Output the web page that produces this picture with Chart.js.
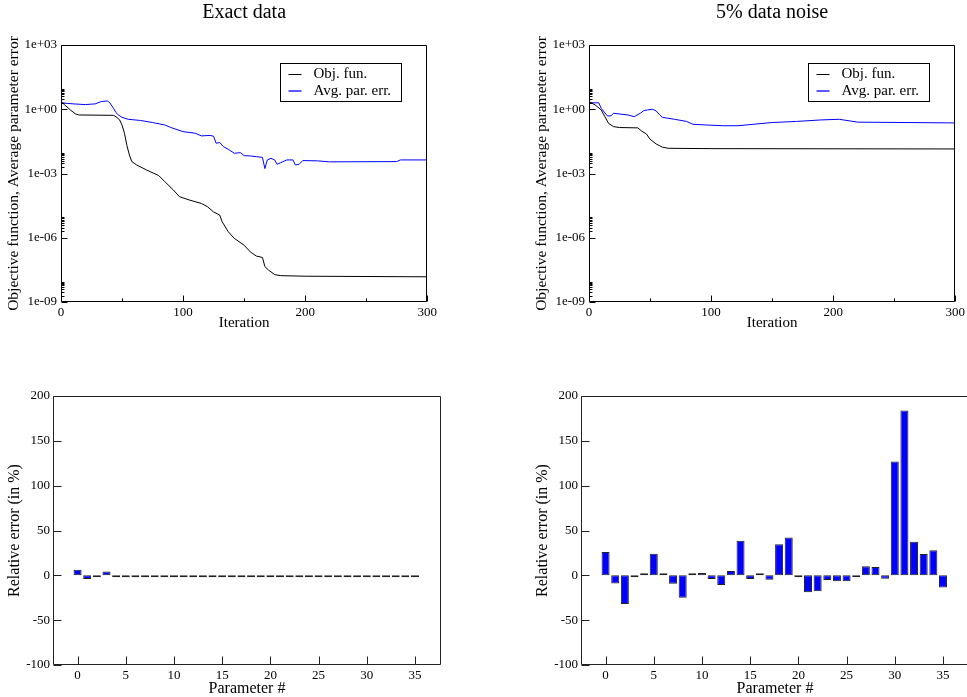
<!DOCTYPE html>
<html>
<head>
<meta charset="utf-8">
<script src="https://cdn.jsdelivr.net/npm/chart.js@4.4.1/dist/chart.umd.min.js"></script>
<style>
  html, body { margin: 0; padding: 0; background: #fff; width: 967px; height: 697px; overflow: hidden; }
  canvas { position: absolute; }
</style>
</head>
<body>
<canvas id="exact-conv" width="440" height="345" style="left:0;top:0"></canvas>
<canvas id="noise-conv" width="440" height="345" style="left:528px;top:0"></canvas>
<canvas id="exact-bar" width="452" height="340" style="left:0;top:360px"></canvas>
<canvas id="noise-bar" width="452" height="340" style="left:528px;top:360px"></canvas>
<script>
// convergence histories (iteration, value)
const exactObjIter = [0, 3, 8, 12, 15, 43, 45, 48, 50, 52, 54, 56, 58, 62, 70, 80, 85, 92, 97, 105, 115, 120, 125, 130, 132, 137, 142, 150, 155, 160, 165, 167, 170, 175, 180, 200, 300];
const exactObjVal  = [2.3, 1.6, 0.9, 0.6, 0.54, 0.52, 0.45, 0.32, 0.18, 0.076, 0.02, 0.0074, 0.0036, 0.0025, 0.00147, 0.0008, 0.00042, 0.00017, 8.3e-5, 5.8e-5, 4.0e-5, 2.8e-5, 1.6e-5, 1.15e-5, 5.6e-6, 1.9e-6, 9.3e-7, 4.5e-7, 2.2e-7, 1.4e-7, 1.2e-7, 4.5e-8, 3.1e-8, 1.9e-8, 1.7e-8, 1.6e-8, 1.5e-8];

const exactErrIter = [0, 10, 20, 28, 33, 38, 40, 43, 45, 47, 50, 55, 65, 75, 85, 90, 100, 110, 115, 122, 125, 127, 130, 133, 137, 142, 147, 150, 155, 160, 165, 167, 169, 172, 175, 177, 180, 185, 190, 192, 195, 198, 210, 220, 275, 278, 300];
const exactErrVal  = [2.0, 1.78, 1.65, 1.78, 2.28, 2.45, 2.0, 1.11, 0.70, 0.54, 0.42, 0.34, 0.30, 0.24, 0.185, 0.14, 0.09, 0.076, 0.057, 0.06, 0.055, 0.026, 0.028, 0.018, 0.0135, 0.0088, 0.0094, 0.0068, 0.0066, 0.0061, 0.0057, 0.0017, 0.0043, 0.0051, 0.0043, 0.0027, 0.0032, 0.0043, 0.0043, 0.0025, 0.0027, 0.0040, 0.0039, 0.0035, 0.0036, 0.0043, 0.0043];

const noiseObjIter = [0, 5, 10, 13, 16, 20, 25, 40, 43, 47, 50, 55, 60, 65, 100, 300];
const noiseObjVal  = [2.28, 1.6, 0.93, 0.45, 0.22, 0.155, 0.14, 0.135, 0.097, 0.07, 0.04, 0.024, 0.017, 0.015, 0.0145, 0.014];

const noiseErrIter = [0, 8, 10, 15, 18, 20, 25, 32, 37, 42, 45, 48, 52, 55, 58, 60, 70, 80, 85, 95, 110, 122, 135, 150, 170, 190, 205, 220, 300];
const noiseErrVal  = [2.0, 2.0, 1.11, 0.49, 0.49, 0.65, 0.6, 0.54, 0.45, 0.65, 0.87, 0.93, 1.0, 0.84, 0.54, 0.42, 0.34, 0.27, 0.2, 0.185, 0.17, 0.17, 0.2, 0.24, 0.27, 0.317, 0.34, 0.25, 0.23];

// relative error per parameter (in %)
const paramIndex = [0,1,2,3,4,5,6,7,8,9,10,11,12,13,14,15,16,17,18,19,20,21,22,23,24,25,26,27,28,29,30,31,32,33,34,35];
const exactRelErr = [6.3, -4.1, -0.6, 4.2, -0.7, -0.5, -0.4, -0.5, -0.3, -0.4, -0.5, -0.3, -0.4, -0.5, -0.3, -0.4, -0.5, -0.3, -0.4, -0.5, -0.3, -0.4, -0.5, -0.3, -0.4, -0.5, -0.3, -0.4, -0.5, -0.3, -0.4, -0.5, -0.3, -0.4, -0.5, -0.3];
const noiseRelErr = [26, -9, -32, -0.5, 0.3, 24, 2.2, -9.3, -25, 1.5, 2.6, -4, -10.7, 4.8, 38.5, -4, 1, -4.8, 34.8, 42.2, -2, -18.9, -17.8, -5.2, -6.7, -6.7, -1.5, 10, 9.3, -3.7, 127, 183.7, 37.4, 23.7, 28.1, -13.7];

// ticks
const logTickValues = [1e-9, 1e-6, 1e-3, 1, 1e3];
const logTickLabels = ['1e-09', '1e-06', '1e-03', '1e+00', '1e+03'];
const logMinorDecades = [1e-9, 1e-6, 1e-3, 1];
const logMinorSteps = [2, 3, 4, 5, 6, 7, 8, 9];
const iterTicks = [0, 100, 200, 300];
const iterMinorTicks = [50, 150, 250];
const paramTicks = [0, 5, 10, 15, 20, 25, 30, 35];
const relErrTicks = [-100, -50, 0, 50, 100, 150, 200];

const OBJ_COLOR = '#000000';
const ERR_COLOR = '#0000ff';
const SERIF = '"Liberation Serif", "Times New Roman", serif';
Chart.defaults.color = '#000';
Chart.defaults.font.family = SERIF;

// frame box + inward tick marks
const frameTicks = {
  id: 'frameTicks',
  afterDatasetsDraw(chart, args, opts) {
    const { ctx, chartArea: a, scales } = chart;
    const L = Math.round(a.left) + 0.5, R = Math.round(a.right) - 0.5;
    const T = Math.round(a.top) + 0.5, B = Math.round(a.bottom) - 0.5;
    ctx.save();
    ctx.strokeStyle = opts.color || '#000';
    ctx.lineWidth = 1;
    ctx.beginPath();
    ctx.rect(L, T, R - L, B - T);
    (opts.x || []).forEach(g => g.values.forEach(v => {
      const px = Math.round(scales.x.getPixelForValue(v)) + 0.5;
      ctx.moveTo(px, B); ctx.lineTo(px, B - g.len);
    }));
    (opts.y || []).forEach(g => g.values.forEach(v => {
      const py = Math.round(scales.y.getPixelForValue(v)) + 0.5;
      ctx.moveTo(L, py); ctx.lineTo(L + g.len, py);
    }));
    ctx.stroke();
    ctx.restore();
  }
};

// boxed legend inside the plot, top right
const boxLegend = {
  id: 'boxLegend',
  afterDraw(chart, args, opts) {
    if (!opts.show) return;
    const { ctx, chartArea: a } = chart;
    const left = Math.round(a.right - 147) + 0.5, top = Math.round(a.top + 18) + 0.5;
    ctx.save();
    ctx.fillStyle = '#fff';
    ctx.fillRect(left, top, 121, 38);
    ctx.strokeStyle = '#000';
    ctx.lineWidth = 1;
    ctx.strokeRect(left, top, 121, 38);
    ctx.font = '15px ' + SERIF;
    ctx.textBaseline = 'middle';
    const colors = [OBJ_COLOR, ERR_COLOR];
    chart.data.datasets.forEach((ds, i) => {
      const y = Math.round(top + 10 + i * 17) + (i === 0 ? 0.5 : 0);
      ctx.strokeStyle = colors[i];
      ctx.lineWidth = i === 0 ? 1 : 1.3;
      ctx.beginPath(); ctx.moveTo(left + 8, y); ctx.lineTo(left + 21, y); ctx.stroke();
      ctx.fillStyle = '#000';
      ctx.fillText(ds.label, left + 33, Math.round(top + 10 + i * 17) + 0.5);
    });
    ctx.restore();
  }
};

Chart.register(frameTicks, boxLegend);

const pts = (xs, ys) => xs.map((x, i) => ({ x: x, y: ys[i] }));

function convChart(id, title, objX, objY, errX, errY) {
  const minor = [];
  logMinorDecades.forEach(d => logMinorSteps.forEach(m => minor.push(d * m)));
  return new Chart(document.getElementById(id), {
    type: 'line',
    data: {
      datasets: [
        { label: 'Obj. fun.', data: pts(objX, objY), borderColor: OBJ_COLOR, borderWidth: 1, pointRadius: 0, tension: 0 },
        { label: 'Avg. par. err.', data: pts(errX, errY), borderColor: ERR_COLOR, borderWidth: 1, pointRadius: 0, tension: 0 }
      ]
    },
    options: {
      responsive: false, animation: false, devicePixelRatio: 1,
      layout: { padding: { left: 0, right: 11, top: 0, bottom: 0 } },
      plugins: {
        legend: { display: false },
        tooltip: { enabled: false },
        title: { display: true, text: title, fullSize: false, color: '#000',
                 font: { family: SERIF, size: 20, weight: 'normal' }, padding: { top: 1, bottom: 20 } },
        boxLegend: { show: true },
        frameTicks: {
          x: [{ values: iterTicks, len: 6 }, { values: iterMinorTicks, len: 3 }],
          y: [{ values: logTickValues, len: 6 }, { values: minor, len: 3 }]
        }
      },
      scales: {
        x: {
          type: 'linear', min: 0, max: 300,
          afterBuildTicks: s => { s.ticks = iterTicks.map(v => ({ value: v })); },
          afterFit: s => { s.height = 43; },
          grid: { display: false, drawTicks: false }, border: { display: false },
          ticks: { font: { size: 13 }, padding: 3, maxRotation: 0, autoSkip: false },
          title: { display: true, text: 'Iteration', font: { size: 15 }, padding: { top: 0, bottom: 13 } }
        },
        y: {
          type: 'logarithmic', min: 1e-9, max: 1e3,
          afterBuildTicks: s => { s.ticks = logTickValues.map(v => ({ value: v })); },
          afterFit: s => { s.width = 61; },
          grid: { display: false, drawTicks: false }, border: { display: false },
          ticks: { font: { size: 13 }, padding: 4, autoSkip: false,
                   callback: v => logTickLabels[logTickValues.indexOf(v)] },
          title: { display: true, text: 'Objective function, Average parameter error', font: { size: 15.5 }, padding: { top: 5, bottom: 0 } }
        }
      }
    }
  });
}

function barChart(id, values) {
  return new Chart(document.getElementById(id), {
    type: 'bar',
    data: {
      datasets: [{
        data: pts(paramIndex, values), backgroundColor: '#0000ff', borderColor: '#222222',
        borderWidth: 1, borderSkipped: false, barPercentage: 0.83, categoryPercentage: 1, minBarLength: 2
      }]
    },
    options: {
      responsive: false, animation: false, devicePixelRatio: 1,
      layout: { padding: { left: 0, right: 11, top: 36, bottom: 0 } },
      plugins: {
        legend: { display: false },
        tooltip: { enabled: false },
        frameTicks: {
          color: '#222',
          x: [{ values: paramTicks, len: 8 }],
          y: [{ values: relErrTicks, len: 8 }]
        }
      },
      scales: {
        x: {
          type: 'linear', offset: false, min: -2.55, max: 37.7,
          afterBuildTicks: s => { s.ticks = paramTicks.map(v => ({ value: v })); },
          afterFit: s => { s.height = 35; },
          grid: { display: false, drawTicks: false }, border: { display: false },
          ticks: { font: { size: 13 }, padding: 3, maxRotation: 0, autoSkip: false },
          title: { display: true, text: 'Parameter #', font: { size: 16 }, padding: { top: 0, bottom: 2 } }
        },
        y: {
          min: -100, max: 200,
          afterBuildTicks: s => { s.ticks = relErrTicks.map(v => ({ value: v })); },
          afterFit: s => { s.width = 53; },
          grid: { display: false, drawTicks: false }, border: { display: false },
          ticks: { font: { size: 13 }, padding: 3, autoSkip: false },
          title: { display: true, text: 'Relative error (in %)', font: { size: 16 }, padding: { top: 5, bottom: 0 } }
        }
      }
    }
  });
}

convChart('exact-conv', 'Exact data', exactObjIter, exactObjVal, exactErrIter, exactErrVal);
convChart('noise-conv', '5% data noise', noiseObjIter, noiseObjVal, noiseErrIter, noiseErrVal);
barChart('exact-bar', exactRelErr);
barChart('noise-bar', noiseRelErr);
</script>
</body>
</html>
